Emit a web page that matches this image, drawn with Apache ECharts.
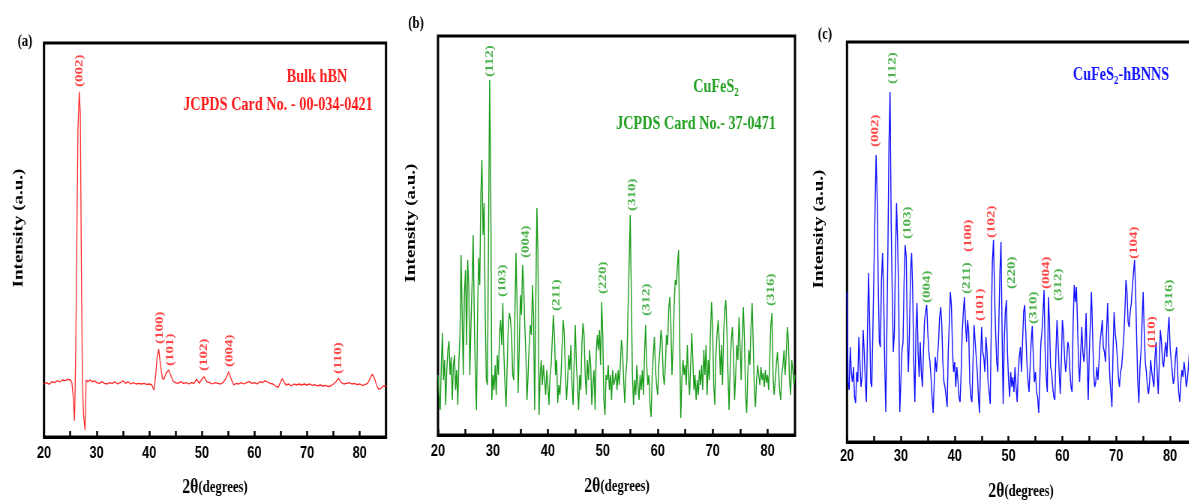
<!DOCTYPE html>
<html><head><meta charset="utf-8">
<script src="https://cdn.jsdelivr.net/npm/echarts@6/dist/echarts.min.js"></script>
<style>
html,body{margin:0;padding:0;overflow:hidden;background:#fff;width:1189px;height:501px}
#c{width:1600px;height:501px;transform:scaleX(0.75);transform-origin:0 0}
</style></head><body><div id="c"></div>
<script>
// ---------- data ----------
const xTickLabels = [20, 30, 40, 50, 60, 70, 80];

// (a) Bulk hBN : angle / intensity pairs
const aAngles = [20,20.5,21,21.5,22,22.5,23,23.5,24,24.5,25,25.3,25.55,25.8,26.0,26.2,26.45,26.7,26.9,27.1,27.3,27.5,27.8,28.0,28.3,28.8,29.2,29.6,30,30.5,31,31.5,32,32.5,33,33.5,34,34.5,35,35.5,36,36.5,37,37.5,38,38.5,39,39.5,40,40.5,40.9,41.2,41.5,41.8,42.1,42.5,42.8,43.2,43.7,44.2,44.6,45,45.5,46,46.5,47,47.5,48,48.5,49,49.5,50,50.4,50.9,51.5,52,52.5,53,53.5,54,54.6,55.1,55.6,56.1,56.5,57,57.5,58,58.5,59,59.5,60,60.5,61,61.5,62,62.5,63,63.5,64,64.5,65,65.3,65.7,66,66.5,67,67.5,68,68.5,69,69.5,70,70.5,71,71.5,72,72.5,73,73.5,74,74.5,75,75.5,76,76.5,77,77.5,78,78.5,79,79.5,80,80.5,81,81.5,82,82.4,82.8,83.2,83.6,84,84.5,85];
const aIntensity = [53.0,54.3,52.7,55.3,54.3,56.3,55.0,57.0,56.3,57.7,57.0,54.3,40.3,16.3,73.7,173.7,307,345.3,323.7,173.7,53.7,23.7,7,57,55.3,57,55,56.3,54.3,53.7,55.3,53.7,53,54.3,53.7,55.3,53,54.3,56.3,53.7,55.3,53,54.3,53,53.7,53,53.7,52.7,53,52,47,60.3,80.3,87.7,73.7,58.7,57.7,63.7,67,60.3,55.3,54.3,53.7,55.3,53.7,54.3,53,54.3,53.7,57.7,53.7,57.7,60.3,55.3,54.3,53,54.3,53.7,53,54.3,58.7,65.3,57.7,52,53.7,53,54.3,53,54.3,55.3,53.7,54.3,53,55.3,54.3,56.3,55,53.7,53,51,49.7,55.3,58.3,54.3,52,53,51,53,52,53,52,53,52,53,51.7,52.3,51,52,51,51.7,50.3,51,53,55.3,58.7,54.3,53,53.7,54.3,53,53.7,52.3,53,51.7,52.3,53.7,58.7,63,58.7,52,47.7,48.7,51,51];

// (b) and (c): regular scan from 20 to 85 deg in 0.2 deg steps
const scanStart = 20, scanStep = 0.2;
const bIntensity = [
 60,40,25,70,102,55,75,30,65,85,94,60,78,35,70,80,45,65,30,72,100,
 180,120,60,140,165,90,175,150,60,110,150,200,120,60,25,120,177,150,240,275,200,232,120,55,50,200,355,250,35,
 60,45,70,40,80,60,100,115,90,132,80,50,28,70,110,122,115,100,60,55,120,182,130,42,90,140,120,170,150,110,80,35,60,90,110,100,150,120,25,130,227,180,20,60,75,
 50,70,55,40,65,50,30,60,70,95,120,100,60,75,32,50,40,60,90,115,100,60,35,55,80,65,90,50,30,75,110,70,50,25,60,45,90,112,100,60,40,75,55,85,70,30,50,65,25,80,100,85,105,70,133,100,35,20,60,
 55,70,45,60,35,65,50,
 55,62,45,65,50,70,95,85,55,32,60,75,125,170,220,140,60,30,55,40,70,50,35,60,45,65,40,80,110,70,50,60,30,18,60,80,98,65,50,40,70,85,105,95,60,50,70,100,90,125,138,110,60,90,130,155,150,170,185,100,17,55,75,60,70,
 50,90,60,40,70,102,75,45,60,35,55,40,65,50,70,45,85,60,90,40,75,55,100,133,110,50,30,80,100,115,95,60,90,50,100,125,135,105,60,25,70,95,108,80,35,60,90,75,118,90,55,100,128,95,40,22,60,85,70,110,132,90,45,28,55,70,60,50,68,55,62,48,65,52,60,45,75,110,122,60,40,55,70,83,65,45,35,60,70,85,60,80,108,95,55,40,75,65,50,60
];
const cIntensity = [
 150,60,52,95,70,60,75,45,39,70,60,105,80,55,65,112,90,60,40,110,169,
 120,60,55,110,172,230,287,245,160,100,95,160,189,150,80,30,110,195,300,350,220,150,90,110,185,239,200,145,30,
 60,90,100,160,197,185,110,70,110,170,189,150,80,40,110,139,90,65,100,70,55,90,122,130,137,110,90,80,65,45,29,60,85,70,72,100,125,135,118,80,60,55,45,35,90,
 120,150,135,90,70,80,55,75,62,45,40,70,110,130,145,120,100,122,110,60,45,40,80,117,100,85,70,45,29,80,115,90,85,70,105,90,60,50,38,120,180,202,150,110,80,70,120,170,200,110,38,100,130,142,90,62,45,70,55,
 65,50,75,55,40,70,85,
 95,70,100,130,137,110,80,62,50,75,100,116,85,60,70,50,45,29,60,99,110,130,152,90,65,50,145,120,75,70,55,45,42,90,122,100,70,48,80,122,110,85,70,80,100,95,70,55,50,120,157,140,155,120,80,60,90,115,90,80,95,129,80,42,90,
 120,150,110,70,55,60,75,62,80,100,110,122,95,90,80,110,139,100,65,50,35,90,130,110,100,85,65,55,70,75,90,105,130,162,150,120,115,130,139,155,169,182,150,102,60,39,75,90,120,150,110,80,70,55,48,60,82,70,62,55,85,100,70,48,80,112,100,80,75,90,100,85,110,125,95,82,70,58,65,85,95,70,50,40,60,72,65,80,70,55,62,75,90,65,55,70,60,75,65,60
];

// peak (hkl) labels
const aPeakNames = ['(002)','(100)','(101)','(102)','(004)','(110)'];
const aPeakAngles = [26.7, 42.0, 44.0, 50.4, 55.3, 76.0];
const aPeakLevels = [349, 92, 70, 65, 69, 62];

const bPeakNames = ['(112)','(103)','(004)','(211)','(220)','(310)','(312)','(316)'];
const bPeakAngles = [29.4, 31.8, 36.0, 41.6, 50.0, 55.4, 58.0, 80.7];
const bPeakLevels = [357, 137, 176, 123, 140, 223, 118, 128];

const cPeakNames = ['(002)','(112)','(103)','(004)','(211)','(100)','(101)','(102)','(220)','(310)','(004)','(312)','(104)','(110)','(316)'];
const cPeakPhase = ['hBN','CuFeS2','CuFeS2','CuFeS2','CuFeS2','hBN','hBN','hBN','CuFeS2','CuFeS2','hBN','CuFeS2','hBN','hBN','CuFeS2'];
const cPeakAngles = [25.2, 28.4, 31.3, 34.9, 42.3, 42.5, 44.7, 46.9, 50.6, 54.6, 57.0, 59.2, 73.3, 76.7, 79.8];
const cPeakLevels = [294, 357, 202, 138, 147, 189, 120, 203, 152, 117, 152, 140, 182, 93, 129];

// ---------- build ----------
const K = 0.75;               // horizontal squeeze of the original figure
const W = v => v / K;
const SERIF = '"Liberation Serif","Times New Roman",serif';
const SANS = '"Liberation Sans",Arial,sans-serif';
const RED = '#ff1a1a', GREEN = '#22a022', BLUE = '#1515ff';
const phaseColor = {hBN: RED, CuFeS2: GREEN};

const scanPairs = vals => vals.map((v, i) => [+(scanStart + i * scanStep).toFixed(1), v]);
const aPairs = aAngles.map((x, i) => [x, aIntensity[i]]);

const panels = [
  {left: 44, top: 43, width: 342, height: 394, ymax: 394, margin: 8},
  {left: 438, top: 36, width: 357, height: 399, ymax: 399, margin: 8},
  {left: 847, top: 42, width: 350, height: 400, ymax: 400, margin: 6}
];

const grid = panels.map(p => ({left: W(p.left), top: p.top, width: W(p.width), height: p.height,
  show: true, borderColor: '#000', borderWidth: 3, backgroundColor: 'transparent'}));

const xAxis = panels.map((p, i) => ({
  gridIndex: i, type: 'value', min: 20, max: 85, interval: 5,
  axisLine: {show: true, onZero: false, lineStyle: {color: '#000', width: 3}},
  axisTick: {show: true, inside: true, length: 6, lineStyle: {color: '#000', width: 2.5}},
  axisLabel: {show: true, margin: p.margin, color: '#000', fontFamily: SANS, fontWeight: 'bold', fontSize: 17,
    showMaxLabel: false,
    formatter: v => xTickLabels.indexOf(v) >= 0 ? String(v) : ''},
  splitLine: {show: false}
}));
const yAxis = panels.map((p, i) => ({gridIndex: i, type: 'value', min: 0, max: p.ymax, show: false}));

function lineSeries(i, data, color, width) {
  return {type: 'line', xAxisIndex: i, yAxisIndex: i, data, showSymbol: false, symbol: 'none',
    smooth: false, sampling: null, silent: true, lineStyle: {color, width}, z: 2};
}
function labelSeries(i, names, angles, levels, colors) {
  return {type: 'scatter', xAxisIndex: i, yAxisIndex: i, symbolSize: 0, silent: true, z: 5,
    itemStyle: {color: 'transparent'},
    data: names.map((n, k) => ({value: [angles[k], levels[k]], label: {color: colors[k]}})),
    label: {show: true, position: 'top', distance: 1, rotate: 90, align: 'left', verticalAlign: 'middle',
      fontFamily: SERIF, fontWeight: 'bold', fontSize: 15,
      formatter: p => names[p.dataIndex]}};
}

const series = [
  lineSeries(0, aPairs, '#ff2a2a', 1.3),
  lineSeries(1, scanPairs(bIntensity), '#1a9c1a', 1.4),
  lineSeries(2, scanPairs(cIntensity), '#1010ff', 1.4),
  labelSeries(0, aPeakNames, aPeakAngles, aPeakLevels, aPeakNames.map(() => RED)),
  labelSeries(1, bPeakNames, bPeakAngles, bPeakLevels, bPeakNames.map(() => GREEN)),
  labelSeries(2, cPeakNames, cPeakAngles, cPeakLevels, cPeakPhase.map(ph => phaseColor[ph]))
];

function text(xv, y, str, size, fill, extra) {
  return Object.assign({type: 'text', x: W(xv), y, silent: true, z: 10,
    style: Object.assign({text: str, fill, font: `bold ${size}px ${SERIF}`,
      textAlign: 'center', textVerticalAlign: 'middle', align: 'center', verticalAlign: 'middle'}, (extra && extra.style) || {})},
    extra && extra.el ? extra.el : {});
}
function richStyle(col, big, small) {
  return {rich: {
    m: {fontSize: big, fontFamily: SERIF, fontWeight: 'bold', fill: col, lineHeight: 24, verticalAlign: 'middle'},
    s: {fontSize: small, fontFamily: SERIF, fontWeight: 'bold', fill: col, lineHeight: 12, verticalAlign: 'bottom'}
  }};
}
function xTitle(xv, y) {
  return text(xv, y, '{t|2θ}{d|(degrees)}', 17, '#000', {style: {rich: {
    t: {fontSize: 21, fontFamily: SERIF, fontWeight: 'bold', fill: '#000', lineHeight: 24, verticalAlign: 'middle'},
    d: {fontSize: 17, fontFamily: SERIF, fontWeight: 'bold', fill: '#000', lineHeight: 24, verticalAlign: 'middle'}
  }}});
}
function yTitle(xv, y) {
  return text(xv, y, 'Intensity (a.u.)', 19, '#000', {el: {rotation: Math.PI / 2}});
}

const graphic = [
  text(25, 42, '(a)', 17, '#000'),
  text(416, 24, '(b)', 17, '#000'),
  text(825, 35, '(c)', 17, '#000'),
  yTitle(18.5, 228), yTitle(411, 223), yTitle(819, 229),
  xTitle(215, 488), xTitle(617, 487), xTitle(1021, 492),
  text(317, 77, 'Bulk hBN', 19, RED),
  text(278, 105, 'JCPDS Card No. - 00-034-0421', 19, RED),
  text(716, 87, '{m|CuFeS}{s|2}', 19, GREEN, {style: richStyle(GREEN, 19, 12)}),
  text(696, 124, 'JCPDS Card No.- 37-0471', 19, GREEN),
  text(1121, 75, '{m|CuFeS}{s|2}{m|-hBNNS}', 19, BLUE, {style: richStyle(BLUE, 19, 12)})
];

const chart = echarts.init(document.getElementById('c'), null, {renderer: 'canvas'});
chart.setOption({animation: false, backgroundColor: '#fff', grid, xAxis, yAxis, series, graphic});
</script></body></html>
